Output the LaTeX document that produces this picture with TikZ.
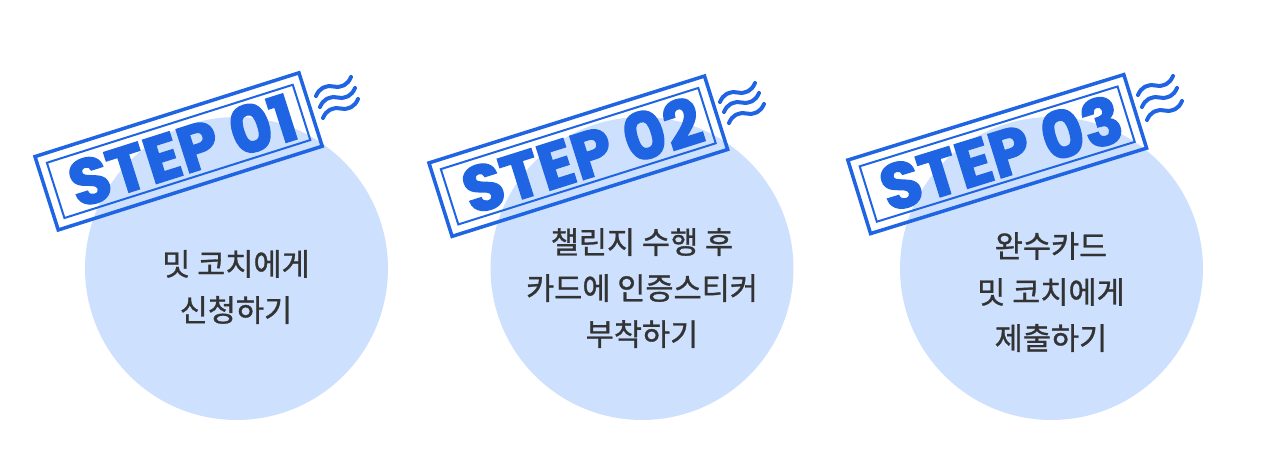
\documentclass[tikz,border=0pt]{standalone}
\usepackage{fontspec}
\setmainfont{Noto Sans CJK KR}[FakeBold=1]
\newfontfamily\stepfont{Poppins}[FakeBold=2]
\usepackage{tikz}

\definecolor{stampblue}{RGB}{31,100,226}
\definecolor{circleblue}{RGB}{205,225,255}
\definecolor{textgray}{RGB}{51,51,51}

\begin{document}
\begin{tikzpicture}[x=0.02cm, y=-0.02cm,
	stepcircle/.style={circle, fill=circleblue, minimum size=6.06cm, inner sep=0pt},
	stampouter/.style={draw=stampblue, line width=0.07cm, minimum height=1.54cm, inner sep=0pt},
	stampinner/.style={draw=stampblue, line width=0.04cm, minimum height=1.16cm, inner sep=0pt},
	steptext/.style={text=stampblue, inner sep=0pt, font=\stepfont\bfseries\fontsize{37}{37}\selectfont},
	wave/.style={draw=stampblue, line width=0.08cm, line cap=round},
	desc/.style={text=textgray, align=center, font=\fontsize{17.4}{26.2}\selectfont}]

\useasboundingbox (0,0) rectangle (1272,470);

% circles
\node[stepcircle] (circA) at (236.5,268.5) {};
\node[stepcircle] (circB) at (642,268.5) {};
\node[stepcircle] (circC) at (1051.5,268.5) {};

% stamp (1)
\node[stampouter, minimum width=5.54cm, rotate=17.6] (stampA) at (178.6,151.4) {};
\node[stampinner, minimum width=5.16cm, rotate=17.6] (stampAin) at (stampA.center) {};
\node[steptext, rotate=17.6] (stepA) at (182.4,150.2) {STEP 01};

% stamp (2)
\node[stampouter, minimum width=5.78cm, rotate=17.5] (stampB) at (578.3,156.2) {};
\node[stampinner, minimum width=5.40cm, rotate=17.5] (stampBin) at (stampB.center) {};
\node[steptext, rotate=17.5] (stepB) at (582.1,155) {STEP 02};

% stamp (3)
\node[stampouter, minimum width=5.78cm, rotate=17.2] (stampC) at (997.2,154.1) {};
\node[stampinner, minimum width=5.40cm, rotate=17.2] (stampCin) at (stampC.center) {};
\node[steptext, rotate=17.2] (stepC) at (1001,152.9) {STEP 03};

% waves (1)
\draw[wave] (316,96) .. controls +(3.3,-7.8) and +(-8.3,-1.5) .. ++(17.5,-9.5) .. controls +(8.3,1.5) and +(-3.3,7.8) .. ++(17.5,-9.5);
\draw[wave] (320,107) .. controls +(3.3,-7.8) and +(-8.3,-1.5) .. ++(17.5,-9.5) .. controls +(8.3,1.5) and +(-3.3,7.8) .. ++(17.5,-9.5);
\draw[wave] (323,118) .. controls +(3.3,-7.8) and +(-8.3,-1.5) .. ++(17.5,-9.5) .. controls +(8.3,1.5) and +(-3.3,7.8) .. ++(17.5,-9.5);

% waves (2)
\draw[wave] (720,102) .. controls +(3.3,-7.8) and +(-8.3,-1.5) .. ++(17.5,-9.5) .. controls +(8.3,1.5) and +(-3.3,7.8) .. ++(17.5,-9.5);
\draw[wave] (724,112) .. controls +(3.3,-7.8) and +(-8.3,-1.5) .. ++(17.5,-9.5) .. controls +(8.3,1.5) and +(-3.3,7.8) .. ++(17.5,-9.5);
\draw[wave] (729,123) .. controls +(3.3,-7.8) and +(-8.3,-1.5) .. ++(17.5,-9.5) .. controls +(8.3,1.5) and +(-3.3,7.8) .. ++(17.5,-9.5);

% waves (3)
\draw[wave] (1138,95) .. controls +(3.3,-7.8) and +(-8.3,-1.5) .. ++(17.5,-9.5) .. controls +(8.3,1.5) and +(-3.3,7.8) .. ++(17.5,-9.5);
\draw[wave] (1142,107) .. controls +(3.3,-7.8) and +(-8.3,-1.5) .. ++(17.5,-9.5) .. controls +(8.3,1.5) and +(-3.3,7.8) .. ++(17.5,-9.5);
\draw[wave] (1147,120) .. controls +(3.3,-7.8) and +(-8.3,-1.5) .. ++(17.5,-9.5) .. controls +(8.3,1.5) and +(-3.3,7.8) .. ++(17.5,-9.5);

% texts
\node[desc] (descA) at (236,287) {밋 코치에게\\신청하기};
\node[desc] (descB) at (642,288) {챌린지 수행 후\\카드에 인증스티커\\부착하기};
\node[desc] (descC) at (1051,292) {완수카드\\밋 코치에게\\제출하기};

\end{tikzpicture}
\end{document}
